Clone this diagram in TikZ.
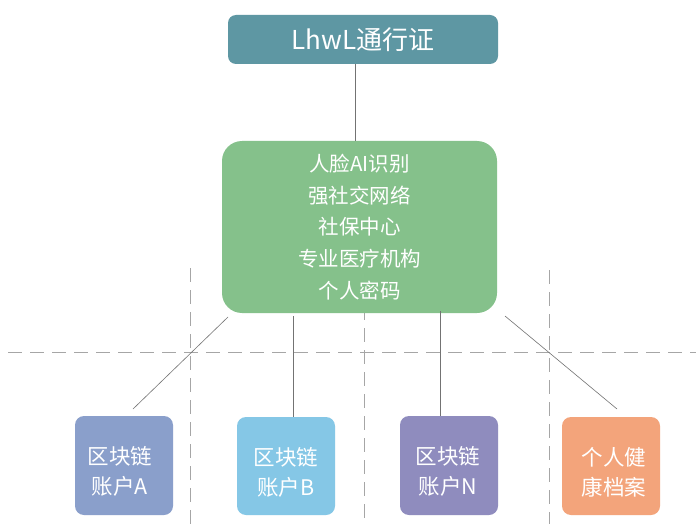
\documentclass[tikz,border=0pt]{standalone}
\usepackage{fontspec}
\setmainfont{Noto Sans CJK SC}
\newcommand{\twolines}[3][0pt]{\hspace*{#1}\raisebox{0pt}[\dimexpr\height+16pt\relax][\depth]{\begin{tabular}{@{}c@{}}#2\\#3\end{tabular}}}
\begin{document}
\begin{tikzpicture}[x=1pt,y=-1pt,
  box/.style={draw=none, rounded corners=9pt, text=white, align=center, inner sep=0pt, font=\fontsize{21.5}{30}\selectfont},
  conn/.style={draw=black!55, line width=0.6pt},
  grid/.style={draw=black!35, line width=0.8pt, dash pattern=on 14pt off 8pt}]
\definecolor{topc}{HTML}{5E97A3}
\definecolor{greenc}{HTML}{85C18B}
\definecolor{ac}{HTML}{8A9FCB}
\definecolor{bc}{HTML}{85C7E6}
\definecolor{nc}{HTML}{8F8CBE}
\definecolor{hc}{HTML}{F3A47B}
\useasboundingbox (0,0) rectangle (696,524);
\fill[white] (0,0) rectangle (696,524);
% dashed grid
\coordinate (h1) at (8,352); \coordinate (h2) at (696,352);
\coordinate (v1a) at (190,268); \coordinate (v1b) at (190,524);
\coordinate (v2a) at (364,262); \coordinate (v2b) at (364,524);
\coordinate (v3a) at (549,270); \coordinate (v3b) at (549,524);
\draw[grid] (h1) -- (h2);
\draw[grid] (v1a) -- (v1b);
\draw[grid] (v2a) -- (v2b);
\draw[grid] (v3a) -- (v3b);
% nodes
\node[box, fill=topc, minimum width=270pt, minimum height=49pt, rounded corners=8pt, font=\fontsize{26}{30}\selectfont] (top) at (363,39.5) {LhwL通行证};
\node[box, fill=greenc, minimum width=275pt, minimum height=172pt, rounded corners=20pt, font=\fontsize{20.5}{31.7}\selectfont] (mid) at (359.5,227) {人脸AI识别\\强社交网络\\社保中心\\专业医疗机构\\个人密码};
\node[box, fill=ac, minimum width=98pt, minimum height=99pt] (a) at (124,465.5) {\twolines[-8pt]{区块链}{账户A}};
\node[box, fill=bc, minimum width=98pt, minimum height=98pt] (b) at (286,466) {\twolines{区块链}{账户B}};
\node[box, fill=nc, minimum width=98pt, minimum height=99pt] (n) at (449,465.5) {\twolines[-2pt]{区块链}{账户N}};
\node[box, fill=hc, minimum width=98pt, minimum height=98pt] (h) at (611,466) {\twolines[6pt]{个人健}{康档案}};
% connectors
\coordinate (ma) at (228,317); \coordinate (ae) at (133,409);
\coordinate (mb) at (293,316);
\coordinate (mn) at (440,311);
\coordinate (mh) at (505,316); \coordinate (he) at (617,409);
\draw[conn] (top.south -| 355,0) -- (mid.north -| 355,0);
\draw[conn] (ma) -- (ae);
\draw[conn] (mb) -- (b.north -| mb);
\draw[conn] (mn) -- (n.north -| mn);
\draw[conn] (mh) -- (he);
\end{tikzpicture}
\end{document}
